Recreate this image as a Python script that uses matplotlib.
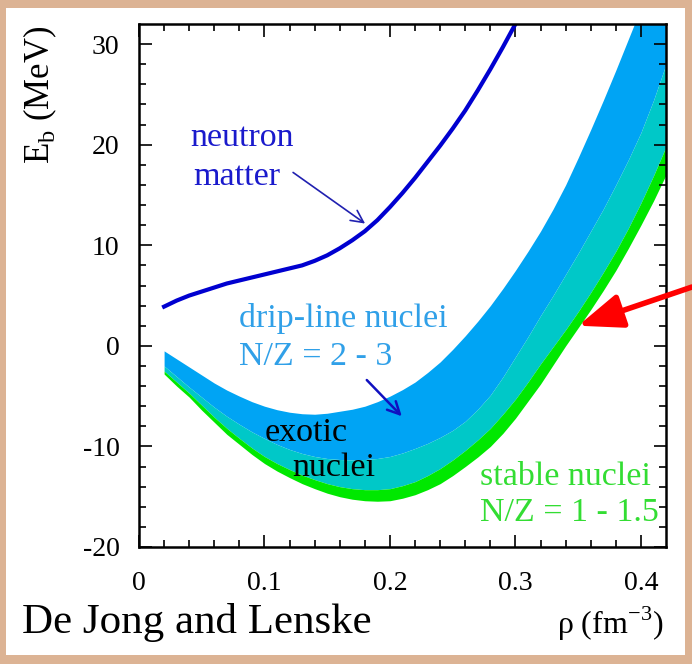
import numpy as np
import matplotlib.pyplot as plt
from matplotlib.patches import Rectangle

# density grid for the bands (fm^-3)
rho = [0.02, 0.03, 0.04, 0.05, 0.06, 0.07, 0.08, 0.09, 0.10, 0.11, 0.12,
       0.13, 0.14, 0.15, 0.16, 0.17, 0.18, 0.19, 0.20, 0.21, 0.22, 0.23,
       0.24, 0.25, 0.26, 0.27, 0.28, 0.29, 0.30, 0.31, 0.32, 0.33, 0.34,
       0.35, 0.36, 0.37, 0.38, 0.39, 0.40, 0.41, 0.42]

# neutron matter curve
rho_n = [0.02, 0.03, 0.04, 0.05, 0.06, 0.07, 0.08, 0.09, 0.10, 0.11, 0.12,
         0.13, 0.14, 0.15, 0.16, 0.17, 0.18, 0.19, 0.20, 0.21, 0.22, 0.23,
         0.24, 0.25, 0.26, 0.27, 0.28, 0.29, 0.30]
e_neutron = [3.9, 4.5, 5.0, 5.4, 5.8, 6.2, 6.5, 6.8, 7.1, 7.4, 7.7,
             8.0, 8.45, 9.0, 9.7, 10.5, 11.4, 12.5, 13.8, 15.2, 16.7, 18.3,
             19.9, 21.6, 23.4, 25.4, 27.5, 29.7, 32.0]

# band boundaries (MeV)
e_drip_top = [-0.5, -1.3, -2.1, -2.9, -3.7, -4.4, -5.0, -5.55, -6.0, -6.35, -6.6,
              -6.75, -6.8, -6.7, -6.5, -6.3, -6.0, -5.55, -5.0, -4.35, -3.6, -2.65,
              -1.6, -0.35, 1.0, 2.45, 4.0, 5.7, 7.5, 9.4, 11.4, 13.6, 16.0,
              18.7, 21.5, 24.4, 27.4, 30.5, 33.6, 36.8, 40.0]
e_drip_bot = [-2.0, -3.05, -4.1, -5.1, -6.1, -7.0, -7.8, -8.55, -9.2, -9.8, -10.3,
              -10.7, -11.0, -11.2, -11.3, -11.35, -11.3, -11.2, -11.0, -10.65, -10.2, -9.7,
              -9.1, -8.4, -7.5, -6.3, -4.9, -3.1, -1.1, 0.9, 3.0, 5.0, 7.1,
              9.2, 11.4, 13.6, 16.0, 18.5, 21.2, 24.4, 28.0]
e_stable_top = [-2.5, -3.6, -4.7, -5.9, -7.1, -8.2, -9.2, -10.15, -11.0, -11.7, -12.3,
                -12.85, -13.3, -13.7, -14.0, -14.2, -14.3, -14.3, -14.2, -13.9, -13.5, -12.9,
                -12.2, -11.35, -10.4, -9.35, -8.2, -6.8, -5.3, -3.6, -1.8, -0.1, 1.6,
                3.4, 5.3, 7.3, 9.4, 11.7, 14.2, 16.9, 19.8]
e_stable_bot = [-2.8, -4.0, -5.1, -6.4, -7.6, -8.8, -9.8, -10.8, -11.7, -12.45, -13.1,
                -13.7, -14.2, -14.65, -15.0, -15.25, -15.4, -15.45, -15.4, -15.15, -14.8, -14.3,
                -13.7, -12.9, -12.0, -11.05, -10.0, -8.7, -7.2, -5.5, -3.8, -1.9, 0.0,
                1.8, 3.6, 5.5, 7.5, 9.7, 12.0, 14.4, 17.0]

plt.rcParams['font.family'] = ['Liberation Serif', 'DejaVu Serif']
plt.rcParams['axes.unicode_minus'] = False

fig = plt.figure(figsize=(6.92, 6.64), dpi=100, facecolor='#dcb394')
fig.patches.append(Rectangle((6 / 692, 9 / 664), 679 / 692, 647 / 664,
                             transform=fig.transFigure, facecolor='white',
                             edgecolor='none', zorder=-10))

ax = fig.add_axes([139 / 692, 1 - 547 / 664, 527 / 692, 523 / 664])
ax.set_zorder(2)
ax.set_facecolor('white')

ax.fill_between(rho, e_drip_bot, e_drip_top, color='#00a4f4', lw=0)
ax.fill_between(rho, e_stable_top, e_drip_bot, color='#00c8c8', lw=0)
ax.fill_between(rho, e_stable_bot, e_stable_top, color='#00e800', lw=0)
ax.plot(rho_n, e_neutron, color='#0000d0', lw=3)

ax.set_xlim(0, 0.42)
ax.set_ylim(-20, 32)
ax.set_xticks([0, 0.1, 0.2, 0.3, 0.4])
ax.set_xticklabels(['0', '0.1', '0.2', '0.3', '0.4'])
ax.set_yticks([-20, -10, 0, 10, 20, 30])
ax.set_xticks(np.arange(0, 0.42, 0.02), minor=True)
ax.set_yticks(np.arange(-20, 32, 2), minor=True)
ax.tick_params(which='both', direction='in', top=True, right=True,
               labelsize=20, width=1.2)
ax.tick_params(which='major', length=9)
ax.tick_params(which='minor', length=5)
ax.tick_params(axis='x', which='major', pad=17)
ax.tick_params(axis='y', which='major', pad=14)
for s in ax.spines.values():
    s.set_linewidth(1.8)

# labels
fig.text(40 / 692, 1 - 95 / 664, r'E$_\mathregular{b}$ (MeV)', rotation=90,
         ha='center', va='center', fontsize=25)
fig.text(610 / 692, 1 - 624 / 664, r'ρ (fm$^\mathregular{-3}$)',
         ha='center', va='center', fontsize=23)
fig.text(22 / 692, 1 - 622 / 664, 'De Jong and Lenske',
         ha='left', va='center', fontsize=31)

fs = 24.5
ax.text(0.041, 20.7, 'neutron', color='#1a1acc', fontsize=fs, ha='left', va='center')
ax.text(0.043, 16.8, 'matter', color='#1a1acc', fontsize=fs, ha='left', va='center')
ax.annotate('', xy=(0.182, 12.0), xytext=(0.121, 17.4),
            arrowprops=dict(arrowstyle='->', color='#2020b0', lw=1.2,
                            mutation_scale=22))

ax.text(0.080, 2.7, 'drip-line nuclei', color='#30a0e8', fontsize=fs, ha='left', va='center')
ax.text(0.080, -1.1, 'N/Z = 2 - 3', color='#30a0e8', fontsize=fs, ha='left', va='center')
ax.annotate('', xy=(0.211, -7.2), xytext=(0.180, -3.2),
            arrowprops=dict(arrowstyle='->', color='#1010c0', lw=1.8,
                            mutation_scale=22))

ax.text(0.100, -8.6, 'exotic', color='black', fontsize=fs, ha='left', va='center')
ax.text(0.122, -12.1, 'nuclei', color='black', fontsize=fs, ha='left', va='center')

ax.text(0.272, -13.0, 'stable nuclei', color='#33dd33', fontsize=fs, ha='left', va='center')
ax.text(0.272, -16.6, 'N/Z = 1 - 1.5', color='#33dd33', fontsize=fs, ha='left', va='center')

ax.annotate('', xy=(0.350, 2.0), xytext=(692 / 692, 1 - 287 / 664),
            textcoords='figure fraction', annotation_clip=False,
            arrowprops=dict(arrowstyle='-|>,head_length=0.9,head_width=0.35',
                            color='#ff0000', lw=4, mutation_scale=30,
                            shrinkA=0, shrinkB=0))

fig.savefig('out.png', dpi=100, facecolor=fig.get_facecolor())
